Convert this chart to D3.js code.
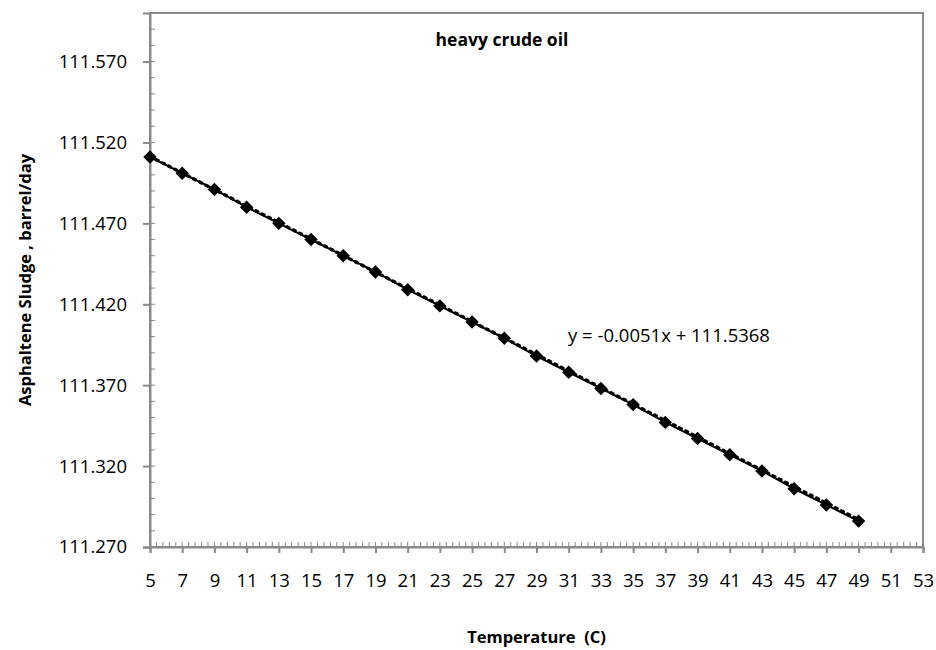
<!DOCTYPE html>
<html>
<head>
<meta charset="utf-8">
<script src="https://cdn.jsdelivr.net/npm/d3@7"></script>
<style>
  body { margin: 0; background: #fff; }
  text { font-family: "Open Sans", "Noto Sans", sans-serif; fill: #000; }
</style>
</head>
<body>
<div id="chart"></div>
<script>
(function() {
  var temperature, sludge, xTicks, yTicks, trendSlope, trendIntercept, equationLabel,
    width, height, margin, svg, x, y, axisColor, plot, line, diamond;

  temperature = [5, 7, 9, 11, 13, 15, 17, 19, 21, 23, 25, 27, 29, 31, 33, 35, 37, 39, 41, 43, 45, 47, 49];
  sludge = [111.511, 111.501, 111.491, 111.480, 111.470, 111.460, 111.450, 111.440, 111.429, 111.419,
    111.409, 111.399, 111.388, 111.378, 111.368, 111.358, 111.347, 111.337, 111.327, 111.317,
    111.306, 111.296, 111.286];
  xTicks = d3.range(5, 54, 2);
  yTicks = [111.270, 111.320, 111.370, 111.420, 111.470, 111.520, 111.570];
  trendSlope = -0.0051;
  trendIntercept = 111.5368;
  equationLabel = "y = -0.0051x + 111.5368";

  width = 936;
  height = 650;
  margin = {top: 13, right: 13, bottom: 103, left: 150};
  axisColor = "#898989";

  svg = d3.select("#chart").append("svg").attr("width", width).attr("height", height);

  x = d3.scaleLinear().domain([5, 53]).range([margin.left, width - margin.right]);
  y = d3.scaleLinear().domain([111.27, 111.60]).range([height - margin.bottom, margin.top]);

  // plot border
  svg.append("rect")
    .attr("x", x(5)).attr("y", y(111.60))
    .attr("width", x(53) - x(5)).attr("height", y(111.27) - y(111.60))
    .attr("fill", "none").attr("stroke", axisColor).attr("stroke-width", 2);

  // minor ticks, inside
  svg.append("g").selectAll("line")
    .data(d3.range(5.4, 53, 0.4))
    .enter().append("line")
    .attr("x1", function(d) { return x(d); }).attr("x2", function(d) { return x(d); })
    .attr("y1", y(111.27)).attr("y2", y(111.27) - 5)
    .attr("stroke", axisColor).attr("stroke-width", 1);

  svg.append("g").selectAll("line")
    .data(d3.range(1, 33).map(function(i) { return 111.27 + i * 0.01; }))
    .enter().append("line")
    .attr("x1", x(5)).attr("x2", x(5) + 5)
    .attr("y1", function(d) { return y(d); }).attr("y2", function(d) { return y(d); })
    .attr("stroke", axisColor).attr("stroke-width", 1);

  // major axes
  svg.append("g")
    .attr("transform", "translate(0," + y(111.27) + ")")
    .call(d3.axisBottom(x).tickValues(xTicks).tickSize(6).tickPadding(21).tickFormat(d3.format("d")))
    .call(function(g) {
      g.select(".domain").attr("stroke", axisColor).attr("stroke-width", 2);
      g.selectAll(".tick line").attr("stroke", axisColor).attr("stroke-width", 2);
      g.selectAll("text").attr("font-size", 18.5).attr("font-family", null);
    });

  svg.append("g")
    .attr("transform", "translate(" + x(5) + ",0)")
    .call(d3.axisLeft(y).tickValues(yTicks).tickSize(7).tickPadding(16).tickFormat(d3.format(".3f")))
    .call(function(g) {
      g.select(".domain").attr("stroke", axisColor).attr("stroke-width", 2);
      g.selectAll(".tick line").attr("stroke", axisColor).attr("stroke-width", 2);
      g.selectAll("text").attr("font-size", 18.5).attr("font-family", null);
    });

  plot = svg.append("g");

  line = d3.line()
    .x(function(d, i) { return x(temperature[i]); })
    .y(function(d) { return y(d); });

  plot.append("path")
    .datum(sludge)
    .attr("d", line)
    .attr("fill", "none").attr("stroke", "#000").attr("stroke-width", 2);

  // linear trendline, dotted
  plot.append("path")
    .datum(d3.extent(temperature))
    .attr("d", d3.line()
      .x(function(d) { return x(d); })
      .y(function(d) { return y(trendSlope * d + trendIntercept); }))
    .attr("fill", "none").attr("stroke", "#000").attr("stroke-width", 3.4)
    .attr("stroke-dasharray", "2,5").attr("stroke-linecap", "round");

  diamond = d3.symbol().type(d3.symbolDiamond2).size(115);
  plot.selectAll(".pt")
    .data(sludge)
    .enter().append("path")
    .attr("class", "pt")
    .attr("transform", function(d, i) { return "translate(" + x(temperature[i]) + "," + y(d) + ")"; })
    .attr("d", diamond)
    .attr("fill", "#000");

  svg.append("text")
    .attr("x", 502).attr("y", 46)
    .attr("text-anchor", "middle")
    .attr("font-size", 17.5).attr("font-weight", "bold")
    .text("heavy crude oil");

  svg.append("text")
    .attr("x", 568).attr("y", 342)
    .attr("font-size", 18.5)
    .text(equationLabel);

  svg.append("text")
    .attr("x", (x(5) + x(53)) / 2).attr("y", 643)
    .attr("text-anchor", "middle")
    .attr("font-size", 16.5).attr("font-weight", "bold")
    .attr("xml:space", "preserve")
    .text("Temperature  (C)");

  svg.append("text")
    .attr("transform", "translate(31," + (y(111.27) + y(111.60)) / 2 + ") rotate(-90)")
    .attr("text-anchor", "middle")
    .attr("font-size", 16.5).attr("font-weight", "bold")
    .text("Asphaltene Sludge , barrel/day");
})();
</script>
</body>
</html>
